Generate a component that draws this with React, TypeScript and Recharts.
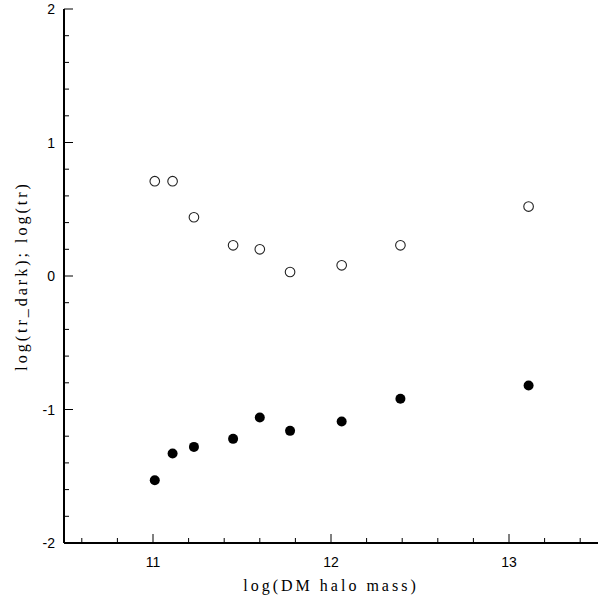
import React from "react";
import { ScatterChart, Scatter, XAxis, YAxis } from "recharts";

// log(DM halo mass) per halo
const haloMass = [11.01, 11.11, 11.23, 11.45, 11.6, 11.77, 12.06, 12.39, 13.11];
// open circles: log(tr_dark)
const trDark = [0.71, 0.71, 0.44, 0.23, 0.2, 0.03, 0.08, 0.23, 0.52];
// filled circles: log(tr)
const trBaryon = [-1.53, -1.33, -1.28, -1.22, -1.06, -1.16, -1.09, -0.92, -0.82];

const xTicks = [
  10.6, 10.8, 11, 11.2, 11.4, 11.6, 11.8, 12, 12.2, 12.4, 12.6, 12.8, 13, 13.2,
  13.4,
];
const yTicks = [
  -2, -1.8, -1.6, -1.4, -1.2, -1, -0.8, -0.6, -0.4, -0.2, 0, 0.2, 0.4, 0.6,
  0.8, 1, 1.2, 1.4, 1.6, 1.8, 2,
];

const darkData = haloMass.map((m, i) => ({ x: m, y: trDark[i] }));
const baryonData = haloMass.map((m, i) => ({ x: m, y: trBaryon[i] }));

const SANS = "'Liberation Sans', Arial, sans-serif";
const SERIF = "'Liberation Serif', 'Times New Roman', serif";
const MAJOR = 9;
const MINOR = 5;

const isMajor = (v: number) => Math.abs(v - Math.round(v)) < 1e-6;

function BottomTick(props: any) {
  const { x, y, payload } = props;
  const major = isMajor(payload.value);
  return (
    <g>
      <line x1={x} x2={x} y1={y} y2={y - (major ? MAJOR : MINOR)} stroke="#000" strokeWidth={1} />
      {major && (
        <text x={x} y={y + 24} textAnchor="middle" fontFamily={SANS} fontSize={14} fill="#000">
          {String(Math.round(payload.value))}
        </text>
      )}
    </g>
  );
}

function TopTick(props: any) {
  const { x, y, payload } = props;
  const major = isMajor(payload.value);
  return (
    <line x1={x} x2={x} y1={y} y2={y + (major ? MAJOR : MINOR)} stroke="#000" strokeWidth={1} />
  );
}

function LeftTick(props: any) {
  const { x, y, payload } = props;
  const major = isMajor(payload.value);
  return (
    <g>
      <line x1={x} x2={x + (major ? MAJOR : MINOR)} y1={y} y2={y} stroke="#000" strokeWidth={1} />
      {major && (
        <text x={x - 9} y={y + 5} textAnchor="end" fontFamily={SANS} fontSize={14} fill="#000">
          {String(Math.round(payload.value))}
        </text>
      )}
    </g>
  );
}

function RightTick(props: any) {
  const { x, y, payload } = props;
  const major = isMajor(payload.value);
  return (
    <line x1={x} x2={x - (major ? MAJOR : MINOR)} y1={y} y2={y} stroke="#000" strokeWidth={1} />
  );
}

function XTitle(props: any) {
  const vb = props.viewBox;
  return (
    <text
      x={vb.x + vb.width / 2}
      y={591}
      textAnchor="middle"
      fontFamily={SERIF}
      fontSize={16}
      letterSpacing={3}
      fill="#000"
    >
      log(DM halo mass)
    </text>
  );
}

function YTitle(props: any) {
  const vb = props.viewBox;
  const cy = vb.y + vb.height / 2;
  return (
    <text
      x={27}
      y={cy}
      transform={`rotate(-90 27 ${cy})`}
      textAnchor="middle"
      fontFamily={SERIF}
      fontSize={16}
      letterSpacing={3}
      fill="#000"
    >
      log(tr_dark); log(tr)
    </text>
  );
}

const OpenDot = (p: any) => (
  <circle cx={p.cx} cy={p.cy} r={4.8} fill="#fff" stroke="#222" strokeWidth={1.1} />
);
const FilledDot = (p: any) => <circle cx={p.cx} cy={p.cy} r={5} fill="#000" />;

const spine = { stroke: "#000", strokeWidth: 2 };

export default function App() {
  return (
    <div style={{ position: "absolute", left: 0, top: 0, background: "#fff" }}>
      <ScatterChart width={600} height={596} margin={{ top: 9, right: 2, bottom: 0, left: 0 }}>
        <XAxis
          xAxisId="b"
          dataKey="x"
          type="number"
          domain={[10.5, 13.5]}
          ticks={xTicks}
          interval={0}
          height={53}
          tickLine={false}
          tickSize={0}
          tickMargin={0}
          stroke="#000"
          strokeWidth={2}
          axisLine={spine}
          tick={<BottomTick />}
          label={<XTitle />}
          allowDataOverflow
        />
        <XAxis
          xAxisId="t"
          orientation="top"
          type="number"
          domain={[10.5, 13.5]}
          ticks={xTicks}
          interval={0}
          height={0}
          tickLine={false}
          tickSize={0}
          tickMargin={0}
          stroke="#000"
          strokeWidth={2}
          axisLine={spine}
          tick={<TopTick />}
          allowDataOverflow
        />
        <YAxis
          yAxisId="l"
          dataKey="y"
          type="number"
          domain={[-2, 2]}
          ticks={yTicks}
          interval={0}
          width={64}
          tickLine={false}
          tickSize={0}
          tickMargin={0}
          stroke="#000"
          strokeWidth={2}
          axisLine={spine}
          tick={<LeftTick />}
          label={<YTitle />}
          allowDataOverflow
        />
        <YAxis
          yAxisId="r"
          orientation="right"
          type="number"
          domain={[-2, 2]}
          ticks={yTicks}
          interval={0}
          width={0}
          tickLine={false}
          tickSize={0}
          tickMargin={0}
          stroke="#000"
          strokeWidth={2}
          axisLine={spine}
          tick={<RightTick />}
          allowDataOverflow
        />
        <Scatter
          xAxisId="b"
          yAxisId="l"
          data={darkData}
          shape={OpenDot}
          isAnimationActive={false}
        />
        <Scatter
          xAxisId="b"
          yAxisId="l"
          data={baryonData}
          shape={FilledDot}
          isAnimationActive={false}
        />
      </ScatterChart>
    </div>
  );
}
